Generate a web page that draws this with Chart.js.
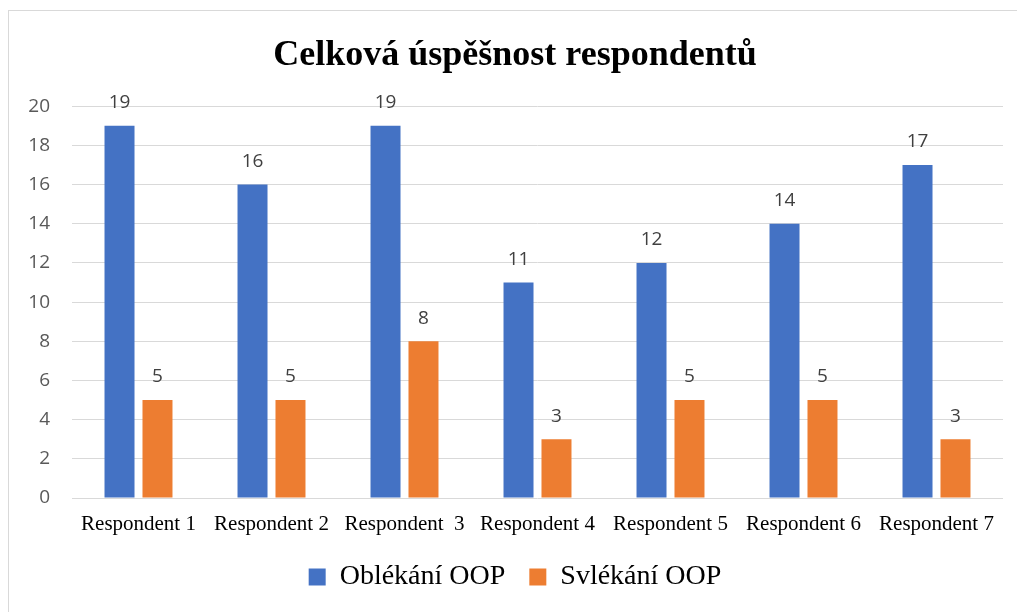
<!DOCTYPE html>
<html>
<head>
<meta charset="utf-8">
<script src="https://cdn.jsdelivr.net/npm/chart.js@4.4.0/dist/chart.umd.min.js"></script>
<style>
  html, body { margin: 0; padding: 0; background: #ffffff; overflow: hidden; }
  #frame { position: absolute; left: 8px; top: 10px; width: 1030px; height: 630px; border: 1px solid #d9d9d9; box-sizing: border-box; }
  #wrap { position: absolute; left: 0; top: 0; width: 1017px; height: 612px; }
</style>
</head>
<body>
<div id="frame"></div>
<div id="wrap"><canvas id="c"></canvas></div>
<script>
const titleText = 'Celková úspěšnost respondentů';
const categories = ['Respondent 1', 'Respondent 2', 'Respondent  3', 'Respondent 4', 'Respondent 5', 'Respondent 6', 'Respondent 7'];
const seriesNames = ['Oblékání OOP', 'Svlékání OOP'];
const oblekani = [19, 16, 19, 11, 12, 14, 17];
const svlekani = [5, 5, 8, 3, 5, 5, 3];
const yTicks = [0, 2, 4, 6, 8, 10, 12, 14, 16, 18, 20];
const colors = ['#4472C4', '#ED7D31'];

const valueLabels = {
  id: 'valueLabels',
  afterDatasetsDraw(chart) {
    const ctx = chart.ctx;
    ctx.save();
    ctx.font = '19px "Open Sans", sans-serif';
    ctx.fillStyle = '#404040';
    ctx.textAlign = 'center';
    ctx.textBaseline = 'middle';
    chart.data.datasets.forEach((ds, i) => {
      const meta = chart.getDatasetMeta(i);
      meta.data.forEach((bar, j) => {
        ctx.fillText(String(ds.data[j]), bar.x, bar.y - 23);
      });
    });
    ctx.restore();
  }
};

new Chart(document.getElementById('c'), {
  type: 'bar',
  data: {
    labels: categories,
    datasets: [
      { label: seriesNames[0], data: oblekani, backgroundColor: colors[0], borderWidth: 0 },
      { label: seriesNames[1], data: svlekani, backgroundColor: colors[1], borderWidth: 0 }
    ]
  },
  options: {
    responsive: true,
    maintainAspectRatio: false,
    animation: false,
    events: [],
    categoryPercentage: 0.571,
    barPercentage: 0.79,
    layout: { padding: { left: 27, right: 14, top: 0, bottom: 11 } },
    plugins: {
      title: {
        display: true,
        text: titleText,
        color: '#000000',
        font: { family: '"Liberation Serif", serif', size: 36, weight: 'bold' },
        padding: { top: 34, bottom: 29 }
      },
      legend: {
        display: true,
        position: 'bottom',
        labels: {
          color: '#000000',
          font: { family: '"Liberation Serif", serif', size: 28 },
          boxWidth: 17,
          boxHeight: 17,
          padding: 24
        }
      },
      tooltip: { enabled: false }
    },
    scales: {
      x: {
        grid: { display: false, drawTicks: false },
        border: { display: false },
        ticks: {
          color: '#000000',
          font: { family: '"Liberation Serif", serif', size: 21 },
          padding: 14,
          maxRotation: 0,
          autoSkip: false
        },
        afterFit(scale) { scale.height = 41; }
      },
      y: {
        min: 0,
        max: 20,
        afterBuildTicks(scale) { scale.ticks = yTicks.map(v => ({ value: v })); },
        grid: { color: '#d9d9d9', lineWidth: 1, drawTicks: false },
        border: { display: false },
        ticks: {
          color: '#595959',
          font: { family: '"Open Sans", sans-serif', size: 19 },
          padding: 22
        },
        afterFit(scale) { scale.width = 45; }
      }
    }
  },
  plugins: [valueLabels]
});
</script>
</body>
</html>
